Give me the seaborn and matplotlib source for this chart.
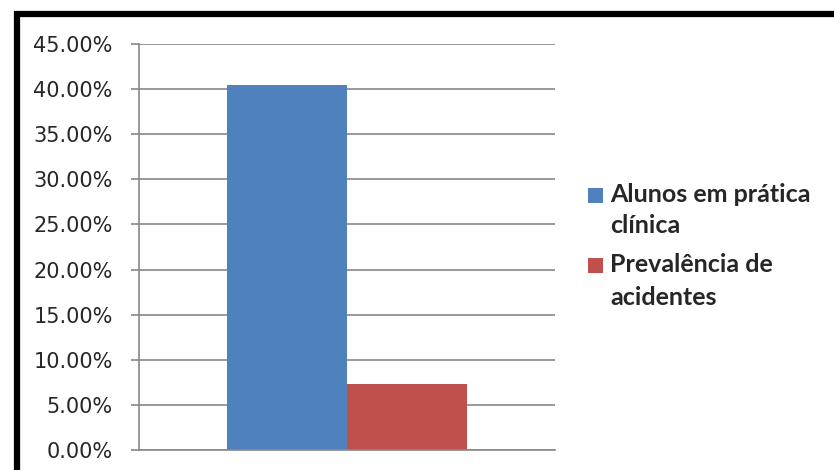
import matplotlib
matplotlib.use("Agg")
import matplotlib.pyplot as plt
from matplotlib.patches import Rectangle
from matplotlib.ticker import FuncFormatter
import seaborn as sns
import pandas as pd

# dados
categorias = [""]
series = ["Alunos em prática clínica", "Prevalência de acidentes"]
legendas = [["Alunos em prática", "clínica"], ["Prevalência de", "acidentes"]]
valores = [0.4045, 0.073]
cores = ["#4F81BD", "#C0504D"]

df = pd.DataFrame({"grupo": categorias * len(series),
                   "serie": series,
                   "valor": valores})

sns.set_style("white")
plt.rcParams['font.family'] = ['DejaVu Sans']

W, H = 834, 470
fig = plt.figure(figsize=(W/100, H/100), dpi=100)
ax = fig.add_axes([139/W, 1-450/H, (555-139)/W, (450-44)/H])

sns.barplot(data=df, x="grupo", y="valor", hue="serie", palette=cores,
            width=0.577, dodge=True, saturation=1, linewidth=0,
            ax=ax, legend=False)

grid_c = "#888888"
ax.set_ylim(0, 0.45)
ax.set_xlim(-0.5, 0.5)
ax.set_yticks([i*0.05 for i in range(10)])
ax.yaxis.set_major_formatter(FuncFormatter(lambda v, p: "{:.2f}%".format(v*100)))
ax.yaxis.grid(True, color=grid_c, lw=1.2)
ax.set_axisbelow(True)
ax.tick_params(axis="y", length=6, width=1.2, color=grid_c, pad=13,
               labelsize=15, left=True, direction="out")
ax.tick_params(axis="x", length=0, labelbottom=False)
ax.set_xlabel("")
ax.set_ylabel("")
for s in ["top", "right"]:
    ax.spines[s].set_visible(False)
for s in ["left", "bottom"]:
    ax.spines[s].set_color(grid_c)
    ax.spines[s].set_linewidth(1.2)

# legenda desenhada a mao (quadrado alinhado com a primeira linha)
leg_font = {"family": "Lato", "weight": "bold", "size": 18}
topos = [188, 258]
bases = [[202, 233], [272, 305]]
for cor, linhas, topo, bl in zip(cores, legendas, topos, bases):
    fig.add_artist(Rectangle((588/W, 1-(topo+15)/H), 15/W, 15/H,
                             transform=fig.transFigure, fc=cor, ec="none"))
    for txt, b in zip(linhas, bl):
        fig.text(610/W, 1-b/H, txt, ha="left", va="baseline", **leg_font)

# moldura (so topo e esquerda aparecem)
fig.add_artist(Rectangle((17/W, -0.2), 1.2, 1-14/H+0.2,
                         transform=fig.transFigure, fill=False,
                         lw=4.5, ec="black"))

fig.savefig("out.png", dpi=100)
